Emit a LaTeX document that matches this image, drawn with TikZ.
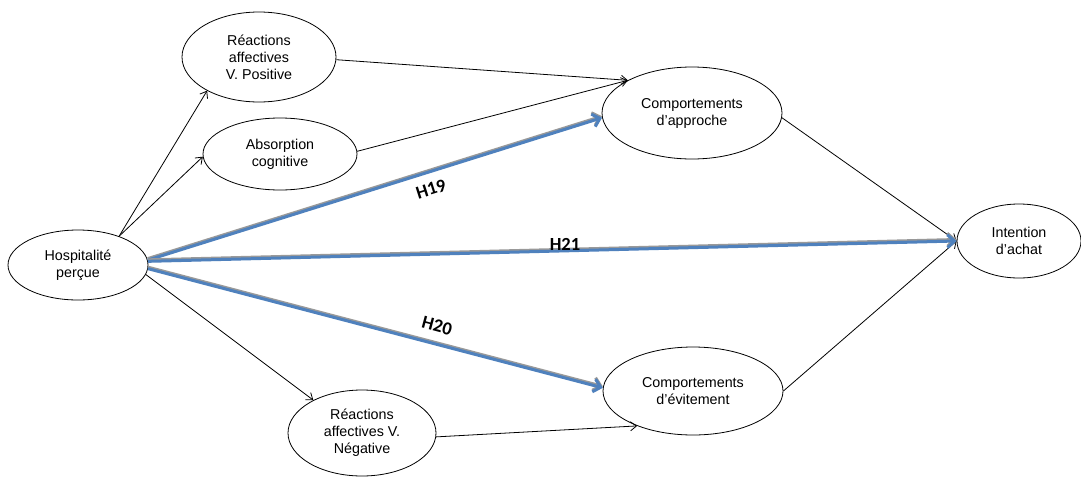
\documentclass[tikz,border=0pt]{standalone}
\usepackage{fontspec}
\setmainfont{Liberation Sans}
\newfontfamily\lblfont{Carlito}
\usetikzlibrary{shapes.geometric,arrows.meta}
\definecolor{hblue}{RGB}{79,129,189}
\begin{document}
\begin{tikzpicture}[x=1pt,y=-1pt,
 ell/.style={ellipse, draw, line width=0.8pt, inner sep=0pt, align=center, font=\fontsize{14.3}{17}\selectfont},
 thinarr/.style={draw, line width=0.8pt, -{Straight Barb[length=6pt,width=9pt]}},
 hyp/.style={draw=hblue, line width=3pt, -{Straight Barb[length=7pt,width=13pt]}},
 hypshade/.style={draw=black!40, line width=3pt, -{Straight Barb[length=7pt,width=13pt]}, transform canvas={yshift=1.5pt}},
 lbl/.style={font=\lblfont\bfseries\fontsize{18.5}{22}\selectfont, inner sep=0pt}
]
\useasboundingbox (0,0) rectangle (1081,477);
\fill[white] (0,0) rectangle (1081,477);

\node[ell, minimum width=140pt, minimum height=70pt] (hosp) at (78,265) {Hospitalité\\perçue};
\node[ell, minimum width=154pt, minimum height=90pt] (ravp) at (259,57) {Réactions\\affectives\\V. Positive};
\node[ell, minimum width=154pt, minimum height=72pt] (abs) at (280,154) {Absorption\\cognitive};
\node[ell, minimum width=180pt, minimum height=92pt] (ca) at (692,113) {Comportements\\d'approche};
\node[ell, minimum width=124pt, minimum height=74pt] (int) at (1019,241) {Intention\\d'achat};
\node[ell, minimum width=180pt, minimum height=88pt] (ce) at (693,391) {Comportements\\d'évitement};
\node[ell, minimum width=148pt, minimum height=86pt] (ravn) at (362,433) {Réactions\\affectives V.\\Négative};

% thin connectors
\draw[thinarr] (hosp.35) -- (ravp.213);
\draw[thinarr] (hosp.35) -- (abs.182);
\draw[thinarr] (ravp.358) -- (ca.153);
\draw[thinarr] (abs.2) -- (ca.153);
\draw[thinarr] (hosp.352) -- (ravn.146);
\draw[thinarr] (ravn.357) -- (ce.212);
\draw[thinarr] (ca.357) -- (int.180);
\draw[thinarr] (ce.0) -- (int.180);

% hypotheses
\draw[hypshade] (hosp.4) -- (ca.183);
\draw[hyp] (hosp.4) -- (ca.183);
\draw[hypshade] (hosp.3) -- (int.180);
\draw[hyp] (hosp.3) -- (int.180);
\draw[hypshade] (hosp.357) -- (ce.178);
\draw[hyp] (hosp.357) -- (ce.178);

\node[lbl, rotate=17.7] (h19) at (431,189) {H19};
\node[lbl] (h21) at (565,244) {H21};
\node[lbl, rotate=-15] (h20) at (437,326) {H20};
\end{tikzpicture}
\end{document}
